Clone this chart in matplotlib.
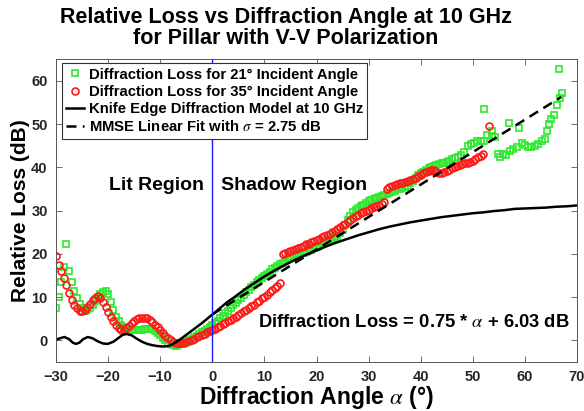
import numpy as np
import matplotlib
matplotlib.use("Agg")
import matplotlib.pyplot as plt

plt.rcParams['font.family'] = ['Liberation Sans', 'DejaVu Sans']
plt.rcParams['mathtext.fontset'] = 'stix'

# ---------------- data ----------------
red_low_x = np.arange(-30.0, 13.01, 0.5)
red_low_y = [19.5, 17.5, 16.0, 14.5, 12.8, 11.0, 9.4, 8.2, 7.4, 6.9,
             6.8, 7.1, 7.7, 8.5, 9.3, 9.9, 10.2, 9.9, 9.0, 7.8,
             6.6, 5.4, 4.4, 3.5, 2.8, 2.4, 2.4, 2.8, 3.4, 4.0,
             4.5, 4.9, 5.2, 5.3, 5.3, 5.1, 4.7, 4.2, 3.6, 3.0,
             2.4, 1.7, 1.1, 0.6, 0.1, -0.3, -0.5, -0.7, -0.7, -0.6,
             -0.4, -0.2, 0.1, 0.4, 0.7, 1.0, 1.3, 1.6, 1.9, 2.1,
             2.4, 2.7, 3.0, 3.3, 3.7, 4.0, 4.4, 4.7, 5.1, 5.5,
             5.9, 6.3, 6.7, 7.1, 7.5, 7.9, 8.3, 8.8, 9.2, 9.7,
             10.1, 10.6, 11.1, 11.6, 12.1, 12.6, 13.2]
red_up_x = np.arange(13.5, 52.01, 0.5)
red_up_y = [20.0, 20.2, 20.4, 20.7, 20.9, 21.2, 21.4, 21.7, 21.9, 22.2,
            22.4, 22.7, 22.9, 23.2, 23.5, 23.8, 24.1, 24.4, 24.7, 25.0,
            25.4, 25.8, 26.2, 26.6, 27.0, 27.4, 27.8, 28.3, 28.7, 29.1,
            29.5, 29.8, 30.0, 30.2, 30.5, 30.8, 31.1, 31.4, 31.6, 31.9,
            35.0, 35.4, 35.7, 35.9, 36.1, 36.3, 36.5, 36.6, 36.8, 37.0,
            37.2, 37.6, 38.0, 38.3, 38.6, 38.9, 39.1, 39.3, 39.3, 39.0,
            38.8, 38.8, 38.9, 39.1, 39.4, 39.8, 40.1, 40.4, 40.6, 40.8,
            41.0, 41.1, 41.3, 41.5, 41.9, 42.3, 42.6, 43.0]
red_out_x = [53.2]
red_out_y = [49.6]

green_x = np.arange(-30.0, 45.01, 0.5)
green_y = [7.6, 10.0, 13.5, 17.0, 22.4, 16.0, 13.5, 11.5, 9.8, 8.4,
           7.4, 6.9, 7.0, 7.5, 8.3, 9.2, 10.0, 10.8, 11.3, 11.5,
           10.8, 9.0, 7.0, 5.5, 4.4, 3.6, 3.1, 2.8, 2.6, 2.5,
           2.4, 2.4, 2.4, 2.5, 2.6, 2.7, 2.7, 2.6, 2.3, 1.8,
           1.2, 0.6, 0.0, -0.5, -0.9, -1.1, -1.2, -1.1, -0.9, -0.6,
           -0.3, 0.0, 0.4, 0.7, 1.1, 1.5, 1.9, 2.3, 2.7, 3.1,
           3.5, 4.0, 4.6, 5.1, 5.7, 6.3, 6.9, 7.5, 8.1, 8.7,
           9.3, 9.9, 10.5, 11.1, 11.7, 12.3, 12.9, 13.4, 13.9, 14.4,
           14.9, 15.4, 15.9, 16.4, 16.8, 17.2, 17.6, 18.0, 18.4, 18.8,
           19.1, 19.4, 19.7, 19.9, 20.1, 20.3, 20.5, 20.8, 21.0, 21.3,
           21.6, 21.9, 22.2, 22.5, 22.8, 23.1, 23.4, 23.8, 24.2, 24.8,
           25.6, 26.6, 27.8, 28.8, 29.6, 30.2, 30.6, 31.0, 31.4, 31.8,
           32.2, 32.5, 32.8, 33.0, 33.2, 33.4, 33.6, 33.8, 34.0, 34.3,
           34.6, 34.9, 35.1, 35.3, 35.5, 35.8, 36.3, 36.9, 37.6, 38.2,
           38.6, 39.0, 39.4, 39.8, 40.1, 40.4, 40.6, 40.8, 41.0, 41.1,
           41.2]
green_sc_x = [45.5, 46.0, 46.5, 47.2, 47.8, 48.3, 49.1, 49.6, 50.2, 50.8,
              51.5, 52.2, 52.2, 52.8, 53.6, 53.6, 54.2, 54.8, 55.3, 55.8,
              56.4, 56.9, 57.2, 57.8, 58.4, 58.8, 59.4, 60.0, 60.6, 61.2,
              61.9, 62.5, 63.2, 63.8, 64.3, 64.6, 65.1, 65.6, 66.2, 66.7,
              67.1, 66.5]
green_sc_y = [41.5, 42.0, 42.2, 42.3, 42.8, 43.6, 45.0, 45.3, 45.6, 46.0,
              46.2, 46.2, 53.6, 47.5, 48.5, 47.3, 47.0, 43.0, 42.5, 43.2,
              42.8, 50.3, 43.8, 44.2, 44.6, 49.0, 45.7, 45.2, 44.6, 44.8,
              45.0, 45.3, 46.0, 46.6, 48.5, 50.1, 51.2, 52.0, 54.3, 56.0,
              57.3, 62.8]

knife_x = [-30, -29, -28.4, -27.5, -26.8, -26.2, -25.5, -24.8, -23.9, -23,
           -22, -21, -20.1, -19, -18, -17.2, -16.5, -15.5, -14.5, -13.5,
           -12.5, -11.5, -10.5, -9.5, -8.5, -8, -7, -6, -5, -4,
           -3, -2, -1, 0, 1, 2, 3, 4, 5, 6,
           7, 8, 9, 10, 12, 14, 16, 18, 20, 22,
           24, 26, 28, 30, 32, 34, 36, 38, 40, 42,
           44, 46, 48, 50, 52, 54, 56, 58, 60, 62,
           64, 66, 68, 70]
knife_y = [0.2, 0.6, 0.8, 0.3, -0.5, -0.8, -0.5, 0.3, 0.8, 0.5,
           -0.2, -0.7, -0.8, -0.3, 0.6, 1.3, 1.5, 1.2, 0.4, -0.3,
           -0.8, -1.1, -1.3, -1.4, -1.3, -1.1, -0.4, 0.4, 1.3, 2.2,
           3.1, 4.0, 5.0, 6.0, 7.0, 8.0, 9.0, 9.8, 10.7, 11.6,
           12.4, 13.2, 14.0, 14.8, 16.2, 17.5, 18.7, 19.8, 20.8, 21.8,
           22.7, 23.5, 24.3, 25.0, 25.7, 26.3, 26.8, 27.3, 27.7, 28.1,
           28.5, 28.8, 29.1, 29.4, 29.6, 29.9, 30.1, 30.4, 30.5, 30.6,
           30.7, 30.9, 31.0, 31.2]

fit_slope = 0.75
fit_intercept = 6.03
fit_sigma = 2.75
fit_x = np.array([0.0, 67.0])

assert len(red_low_x) == len(red_low_y)
assert len(red_up_x) == len(red_up_y)
assert len(green_x) == len(green_y)

# ---------------- plot ----------------
fig = plt.figure(figsize=(5.84, 4.11), dpi=100)
ax = fig.add_axes([0.096, 0.119, 0.892, 0.737])

GREEN = '#2ee82e'
RED = '#ff1a1a'
mk = dict(linestyle='none', markerfacecolor='none', markeredgewidth=1.2)

ax.plot(green_x, green_y, marker='s', markersize=4.5, color=GREEN, **mk,
        label='Diffraction Loss for 21° Incident Angle')
ax.plot(green_sc_x, green_sc_y, marker='s', markersize=4.5, color=GREEN, **mk)
ax.plot(np.concatenate([red_low_x, red_up_x, red_out_x]),
        np.concatenate([red_low_y, red_up_y, red_out_y]),
        marker='o', markersize=5, color=RED, **mk,
        label='Diffraction Loss for 35° Incident Angle')
ax.plot(knife_x, knife_y, color='black', lw=1.8,
        label='Knife Edge Diffraction Model at 10 GHz')
ax.plot(fit_x, fit_slope * fit_x + fit_intercept, color='black', lw=1.8,
        linestyle=(0, (4, 2.5)),
        label=r'MMSE Linear Fit with $\sigma$ = %.2f dB' % fit_sigma)
ax.axvline(0, color='#1a1aff', lw=1.0)

ax.set_xlim(-30, 70)
ax.set_ylim(-5, 65)
ax.set_xticks(range(-30, 71, 10))
ax.set_yticks(range(0, 61, 10))
ax.tick_params(direction='in', top=True, right=True, length=4, width=0.6,
               colors='#555555', labelcolor='#262626', labelsize=10.5, pad=6)
for lab in ax.get_xticklabels() + ax.get_yticklabels():
    lab.set_fontweight('bold')
for s in ax.spines.values():
    s.set_color('#555555')
    s.set_linewidth(0.7)

ax.set_xlabel(r'Diffraction Angle $\alpha$ (°)', fontsize=16.5, fontweight='bold',
              labelpad=0)
ax.set_ylabel('Relative Loss (dB)', fontsize=15, fontweight='bold', labelpad=1)
fig.text(0.49, 0.982,
         'Relative Loss vs Diffraction Angle at 10 GHz\nfor Pillar with V-V Polarization',
         fontsize=15.5, fontweight='bold', ha='center', va='top', linespacing=1.0)

ax.text(-10.8, 35.8, 'Lit Region', fontsize=14, fontweight='bold',
        ha='center', va='center')
ax.text(1.7, 35.8, 'Shadow Region', fontsize=14, fontweight='bold',
        ha='left', va='center')
ax.text(8.7, 4.2, r'Diffraction Loss = %.2f * $\alpha$ + %.2f dB' % (fit_slope, fit_intercept),
        fontsize=13.2, fontweight='bold', ha='left', va='center')

leg = ax.legend(loc='upper left', bbox_to_anchor=(0.011, 0.987), borderaxespad=0,
                prop={'weight': 'bold', 'size': 10.7}, handlelength=1.2,
                handletextpad=0.3, labelspacing=0.22, borderpad=0.3,
                fancybox=False, framealpha=1)
leg.get_frame().set_edgecolor('#333333')
leg.get_frame().set_linewidth(0.8)

fig.savefig('out.png', dpi=100)
